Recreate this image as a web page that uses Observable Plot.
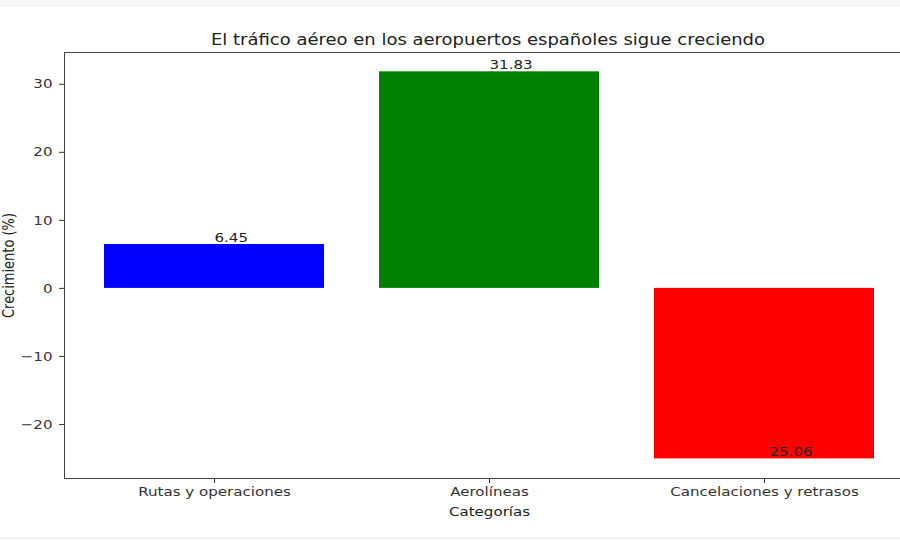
<!DOCTYPE html>
<html><head><meta charset="utf-8">
<script src="https://cdn.jsdelivr.net/npm/d3@7"></script>
<script src="https://cdn.jsdelivr.net/npm/@observablehq/plot@0.6"></script>
<style>
body{margin:0;background:#fff;font-family:"DejaVu Sans",sans-serif;overflow:hidden;width:900px;height:540px;position:relative;}
#title{height:52px;position:relative;}
#title span{position:absolute;left:488px;top:30px;transform:translateX(-50%) scaleX(1.16);font-size:15.5px;line-height:20px;color:#222;white-space:nowrap;}
#chart svg{overflow:hidden;display:block;}
.band{position:absolute;left:0;width:900px;background:#f6f6f6;}
</style></head><body>
<div class="band" style="top:0;height:7px"></div>
<div id="title"><span>El tráfico aéreo en los aeropuertos españoles sigue creciendo</span></div>
<div id="chart"></div>
<div class="band" style="top:537px;height:3px"></div>
<script>
const categories = ["Rutas y operaciones", "Aerolíneas", "Cancelaciones y retrasos"];
const growth = [6.45, 31.83, -25.06];
const barLabels = ["6.45", "31.83", "25.06"];
const barColors = ["#0000ff", "#008000", "#ff0000"];
const yTicks = [-20, -10, 0, 10, 20, 30];
const yLabel = "Crecimiento (%)";
const xLabel = "Categorías";

const data = categories.map((c, i) => ({cat: c, value: growth[i], label: barLabels[i]}));
const pos = data.filter(d => d.value >= 0);
const neg = data.filter(d => d.value < 0);

const chart = Plot.plot({
  width: 900,
  height: 488,
  marginLeft: 64,
  marginRight: -14,
  marginTop: 0,
  marginBottom: 62,
  style: {fontFamily: "DejaVu Sans", fontSize: "13px", color: "#333", background: "white", overflow: "hidden"},
  x: {domain: categories, paddingInner: 0.2, paddingOuter: 0.14, label: null, tickSize: 5, tickPadding: 3},
  y: {domain: [-27.94, 34.67], ticks: yTicks, label: null, tickSize: 5, tickPadding: 7},
  color: {domain: categories, range: barColors},
  marks: [
    Plot.barY(data, {x: "cat", y: "value", fill: "cat"}),
    Plot.text(pos, {x: "cat", y: "value", text: "label", textAnchor: "start", lineAnchor: "bottom", dy: -3, fill: "#222"}),
    Plot.text(neg, {x: "cat", y: "value", text: "label", textAnchor: "start", lineAnchor: "bottom", dy: -3, dx: 5, fill: "#222"}),
    Plot.frame({stroke: "#444"}),
    Plot.text([yLabel], {frameAnchor: "left", text: d => d, rotate: -90, dx: -55, textAnchor: "middle", lineAnchor: "middle", fill: "#222"}),
    Plot.text([xLabel], {frameAnchor: "bottom", text: d => d, dy: 33, lineAnchor: "middle", fill: "#222"})
  ]
});

// the reference's lettering is widened horizontally; stretch each label about its anchor
chart.querySelectorAll("text").forEach(t => {
  let tr = t.getAttribute("transform");
  if (!tr) {
    const x = t.getAttribute("x"), y = t.getAttribute("y");
    if (x !== null || y !== null) {
      tr = `translate(${x || 0},${y || 0})`;
      t.removeAttribute("x"); t.removeAttribute("y");
    } else tr = "";
  }
  t.setAttribute("transform", tr + (tr.includes("rotate") ? " scale(1,1.16)" : " scale(1.16,1)"));
});
document.getElementById("chart").appendChild(chart);
</script>
</body></html>
